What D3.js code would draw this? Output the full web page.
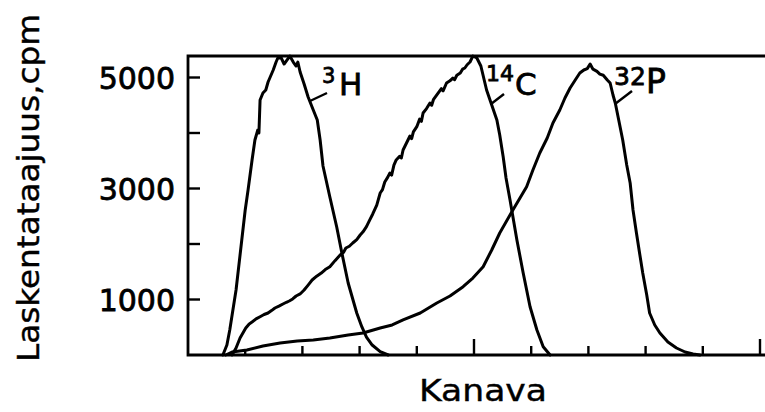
<!DOCTYPE html>
<html>
<head>
<meta charset="utf-8">
<script src="https://cdn.jsdelivr.net/npm/d3@7"></script>
<style>
  html, body { margin: 0; padding: 0; background: #fff; }
  svg { display: block; }
  text { font-family: "DejaVu Sans", sans-serif; fill: #000; }
</style>
</head>
<body>
<svg id="chart" width="765" height="412"></svg>
<script>
// ---- data (channel number, counts per minute) ----
const yTickValues = [1000, 2000, 3000, 4000, 5000];
const yTickLabels = ["1000", "", "3000", "", "5000"];
const xTickValues = [1, 2, 3, 4, 5, 6, 7, 8, 9, 10];
const xMajorTicks = [5, 10];

const h3X = [0.61,0.68,0.73,0.84,0.94,1.00,1.05,1.12,1.17,1.22,1.24,1.26,1.31,1.36,1.40,1.43,1.49,1.54,1.57,1.63,1.68,1.73,1.78,1.84,1.89,1.92,1.96,2.03,2.10,2.19,2.26,2.31,2.36,2.48,2.60,2.69,2.80,2.95,3.04,3.12,3.22,3.36,3.50];
const h3Y = [0,180,450,1171,2072,2613,2973,3514,3874,4054,4000,4595,4721,4775,4919,4991,5135,5279,5351,5351,5243,5315,5387,5279,5207,5279,5099,4883,4649,4414,4234,3874,3405,2847,2306,1838,1297,757,505,324,180,59,0];

const c14X = [0.77,0.84,0.91,1.01,1.07,1.12,1.19,1.26,1.33,1.40,1.46,1.52,1.59,1.66,1.72,1.77,1.83,1.89,1.96,2.03,2.10,2.17,2.25,2.33,2.40,2.48,2.57,2.66,2.72,2.76,2.82,2.88,2.95,3.01,3.06,3.12,3.18,3.23,3.30,3.36,3.40,3.44,3.49,3.53,3.56,3.60,3.64,3.70,3.73,3.76,3.82,3.88,3.91,3.94,4.00,4.05,4.08,4.11,4.17,4.23,4.26,4.29,4.35,4.43,4.46,4.52,4.58,4.63,4.66,4.70,4.76,4.80,4.84,4.88,4.93,4.98,5.05,5.12,5.22,5.31,5.40,5.45,5.51,5.56,5.63,5.75,5.86,5.98,6.10,6.21,6.33];
const c14Y = [0,126,306,486,560,595,650,690,730,757,800,847,880,919,950,973,1010,1063,1100,1171,1260,1351,1420,1477,1540,1591,1700,1802,1850,1928,1960,2018,2080,2162,2220,2312,2440,2541,2700,2919,2980,3117,3200,3279,3240,3420,3514,3580,3550,3694,3820,3946,3900,4020,4114,4250,4210,4360,4440,4541,4500,4600,4685,4800,4760,4901,4940,4991,4960,5040,5081,5150,5171,5230,5279,5387,5351,5207,4775,4505,4234,3964,3573,3189,2793,2072,1477,870,450,150,0];

const p32X = [0.66,0.77,1.03,1.31,1.61,1.91,2.19,2.48,2.80,3.06,3.36,3.57,3.76,4.06,4.35,4.58,4.81,4.98,5.16,5.31,5.45,5.68,5.92,6.03,6.15,6.28,6.38,6.50,6.59,6.68,6.77,6.85,6.92,6.98,7.03,7.08,7.15,7.20,7.26,7.33,7.38,7.43,7.47,7.53,7.60,7.67,7.73,7.78,7.84,7.90,7.95,8.02,8.07,8.16,8.25,8.39,8.54,8.69,8.83,8.95];
const p32Y = [0,54,90,162,216,252,270,306,360,396,486,541,631,757,937,1063,1231,1387,1591,1892,2198,2613,3033,3333,3640,3910,4180,4414,4631,4811,4955,5081,5135,5160,5243,5150,5110,5060,5040,4955,4901,4685,4541,4234,3874,3423,3099,2613,2198,1802,1477,1081,757,541,396,234,126,54,18,0];

const seriesNames = ["3H", "14C", "32P"];
const yAxisTitle = "Laskentataajuus,cpm";
const xAxisTitle = "Kanava";

// ---- layout ----
const svg = d3.select("#chart");
const plotLeft = 188, plotRight = 765, plotTop = 56, plotBottom = 355;

const x = d3.scaleLinear().domain([0, 10]).range([plotLeft, 760]);
const y = d3.scaleLinear().domain([0, 5000]).range([plotBottom, 77.5]);

const ink = "#000";

// frame: left axis, top line, bottom axis
svg.append("path")
  .attr("d", `M${plotRight},${plotTop}H${plotLeft}V${plotBottom}H${plotRight}`)
  .attr("fill", "none").attr("stroke", ink).attr("stroke-width", 2.8);

// y ticks (inward)
svg.selectAll("line.ytick").data(yTickValues).enter().append("line")
  .attr("x1", plotLeft).attr("x2", plotLeft + 12)
  .attr("y1", d => y(d)).attr("y2", d => y(d))
  .attr("stroke", ink).attr("stroke-width", 2.4);

svg.selectAll("text.ylab").data(yTickValues.map((v, i) => ({v, t: yTickLabels[i]})).filter(d => d.t)).enter()
  .append("text")
  .attr("x", 175).attr("y", d => y(d.v) + 11)
  .attr("text-anchor", "end")
  .attr("font-size", 30)
  .attr("stroke", ink).attr("stroke-width", 0.8)
  .text(d => d.t);

// x ticks (inward, up)
svg.selectAll("line.xtick").data(xTickValues).enter().append("line")
  .attr("x1", d => x(d)).attr("x2", d => x(d))
  .attr("y1", plotBottom).attr("y2", d => plotBottom - (xMajorTicks.includes(d) ? 16 : (d === 1 ? 6 : 9)))
  .attr("stroke", ink).attr("stroke-width", 2.4);

// curves
const line = d3.line().x(d => x(d[0])).y(d => y(d[1]));
const series = [
  d3.zip(h3X, h3Y),
  d3.zip(c14X, c14Y),
  d3.zip(p32X, p32Y)
];
svg.selectAll("path.curve").data(series).enter().append("path")
  .attr("d", line)
  .attr("fill", "none").attr("stroke", ink)
  .attr("stroke-width", 3).attr("stroke-linejoin", "round").attr("stroke-linecap", "round");

// labels with leader lines
const labels = [
  {sup: "3", main: "H", sx: 322, sy: 83, mx: 339, my: 95, supSize: 21, mainSize: 31, lx1: 310, ly1: 101, lx2: 327, ly2: 93},
  {sup: "14", main: "C", sx: 486, sy: 81, mx: 515, my: 95, supSize: 22, mainSize: 31, lx1: 491, ly1: 104, lx2: 504, ly2: 94},
  {sup: "32", main: "P", sx: 614, sy: 85, mx: 646, my: 93, supSize: 25, mainSize: 33, lx1: 615, ly1: 104, lx2: 632, ly2: 91}
];
labels.forEach((l, i) => {
  svg.append("line").attr("x1", l.lx1).attr("y1", l.ly1).attr("x2", l.lx2).attr("y2", l.ly2)
    .attr("stroke", ink).attr("stroke-width", 2.4);
  const t = svg.append("text").attr("stroke", ink).attr("stroke-width", 0.8);
  t.append("tspan").attr("x", l.sx).attr("y", l.sy).attr("font-size", l.supSize).text(l.sup);
  t.append("tspan").attr("x", l.mx).attr("y", l.my).attr("font-size", l.mainSize).text(l.main);
});

// axis titles
svg.append("text")
  .attr("transform", "translate(39,188) rotate(-90)")
  .attr("text-anchor", "middle")
  .attr("font-size", 31)
  .attr("textLength", 348).attr("lengthAdjust", "spacingAndGlyphs")
  .attr("stroke", ink).attr("stroke-width", 0.4)
  .text(yAxisTitle);

svg.append("text")
  .attr("x", 483).attr("y", 401)
  .attr("text-anchor", "middle")
  .attr("font-size", 30)
  .attr("textLength", 128).attr("lengthAdjust", "spacingAndGlyphs")
  .attr("stroke", ink).attr("stroke-width", 0.4)
  .text(xAxisTitle);
</script>
</body>
</html>
